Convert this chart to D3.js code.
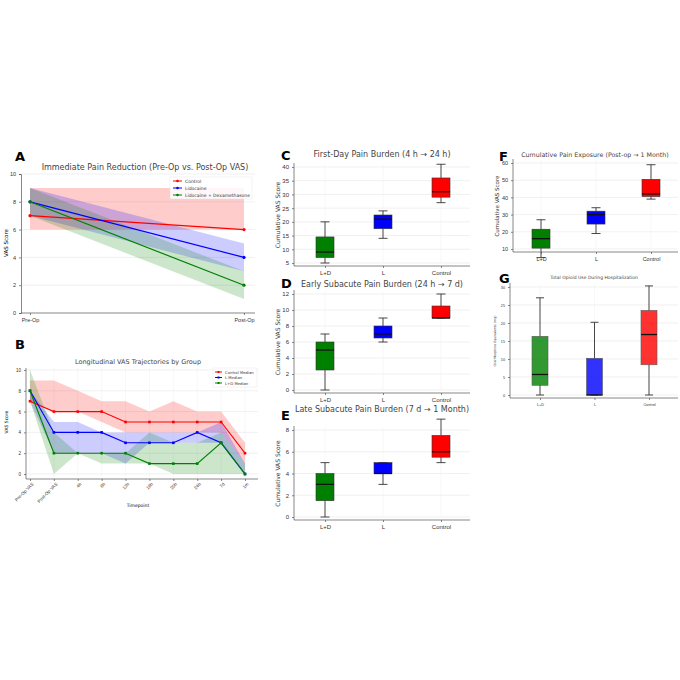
<!DOCTYPE html>
<html><head><meta charset="utf-8">
<script src="https://cdn.jsdelivr.net/npm/d3@7"></script>
<style>body{margin:0;background:#fff}svg{font-family:"DejaVu Sans",sans-serif}</style>
</head><body><svg id="c" width="680" height="680"></svg>
<script>
// Panel A
const aTimes=["Pre-Op","Post-Op"];
const aControl=[7,6], aControlLo=[6,6], aControlHi=[9,9];
const aLido=[8,4], aLidoLo=[7,3], aLidoHi=[9,5];
const aLD=[8,2], aLDLo=[7,1], aLDHi=[9,3];
// Panel B
const bTimes=["Pre-Op VAS","Post-Op VAS","4h","8h","12h","16h","20h","24h","7d","1m"];
const bControl=[7,6,6,6,5,5,5,5,5,2], bControlLo=[7,6,6,5,4,4,4,4,4,1], bControlHi=[9,9,8,7,7,6,7,6,6,3];
const bL=[8,4,4,4,3,3,3,4,3,0], bLLo=[7,2,2,2,1,3,3,3,3,0], bLHi=[8,5,5,4,4,4,4,4,5,1];
const bLD=[8,2,2,2,2,1,1,1,3,0], bLDLo=[7,0,2,1,1,1,0,0,0,0], bLDHi=[10,4,2,2,2,4,3,3,4,1];
// Box panels: [min,q1,median,q3,max] for L+D, L, Control
const groups=["L+D","L","Control"];
const cBox=[[5,7,9,14.5,20],[14,17.5,21,22.5,24],[27,29,31,36,41]];
const dBox=[[0,2.5,5,6,7],[6,6.5,7,8,9],[9,9,9,10.5,12]];
const eBox=[[0,1.5,3,4,5],[3,4,4,5,5],[5,5.5,6,7.5,9]];
const fBox=[[5,10.5,16,21.5,27],[19,24.5,30,32,34],[39,40.5,42,50.5,59]];
const gBox=[[0,2.7,5.7,16.3,27],[0,0,0,10.2,20.2],[0,8.4,16.8,23.5,30.3]];
const cols=["#008000","#0000ff","#ff0000"];

const svg=d3.select("#c");
function lbl(x,y,t){svg.append("text").attr("x",x).attr("y",y).attr("font-size",13).attr("font-weight","bold").text(t);}
function grid(g,x0,x1,ys,yvals){yvals.forEach(v=>g.append("line").attr("x1",x0).attr("x2",x1).attr("y1",ys(v)).attr("y2",ys(v)).attr("stroke","#e6e6e6").attr("stroke-width",0.6));}
function styleAxis(a,fs){a.selectAll("text").attr("font-size",fs).attr("fill","#333");a.selectAll("line,path").attr("stroke","#555").attr("stroke-width",0.7);}

// ---- Panel A
lbl(15,161,"A");
svg.append("text").attr("x",145).attr("y",170).attr("text-anchor","middle").attr("font-size",8).attr("fill","#444").text("Immediate Pain Reduction (Pre-Op vs. Post-Op VAS)");
{
 const x=d3.scalePoint().domain(aTimes).range([30,244]);
 const y=d3.scaleLinear().domain([0,10]).range([313,174]);
 const g=svg.append("g");
 grid(g,21,255,y,[2,4,6,8,10]);
 const series=[[aControl,aControlLo,aControlHi,"#ff0000","Control"],[aLido,aLidoLo,aLidoHi,"#0000ff","Lidocaine"],[aLD,aLDLo,aLDHi,"#008000","Lidocaine + Dexamethasone"]];
 series.forEach(s=>{g.append("path").datum(aTimes.map((t,i)=>[t,s[1][i],s[2][i]])).attr("d",d3.area().x(d=>x(d[0])).y0(d=>y(d[1])).y1(d=>y(d[2]))).attr("fill",s[3]).attr("opacity",0.2);});
 series.forEach(s=>{g.append("path").datum(aTimes.map((t,i)=>[t,s[0][i]])).attr("d",d3.line().x(d=>x(d[0])).y(d=>y(d[1]))).attr("stroke",s[3]).attr("fill","none").attr("stroke-width",1.2);
  g.selectAll(null).data(aTimes.map((t,i)=>[t,s[0][i]])).join("circle").attr("cx",d=>x(d[0])).attr("cy",d=>y(d[1])).attr("r",1.6).attr("fill",s[3]);});
 const ax=g.append("g").attr("transform","translate(0,313)").call(d3.axisBottom(x).tickSize(2));styleAxis(ax,5.5);ax.select("path").attr("d","M21,0H255");
 const ay=g.append("g").attr("transform","translate(21,0)").call(d3.axisLeft(y).ticks(5).tickSize(2));styleAxis(ay,5.5);
 g.append("text").attr("transform","translate(8,243)rotate(-90)").attr("text-anchor","middle").attr("font-size",5.5).text("VAS Score");
 const lg=g.append("g").attr("transform","translate(170,177)");
 lg.append("rect").attr("width",82).attr("height",22).attr("fill","#fff").attr("opacity",0.85).attr("stroke","#ddd").attr("stroke-width",0.4);
 series.forEach((s,i)=>{lg.append("line").attr("x1",3).attr("x2",12).attr("y1",4+i*7).attr("y2",4+i*7).attr("stroke",s[3]);lg.append("circle").attr("cx",7.5).attr("cy",4+i*7).attr("r",1.3).attr("fill",s[3]);lg.append("text").attr("x",15).attr("y",6+i*7).attr("font-size",4.5).attr("fill","#333").text(s[4]);});
}
// ---- Panel B
lbl(15,349,"B");
svg.append("text").attr("x",138).attr("y",364).attr("text-anchor","middle").attr("font-size",6.5).attr("fill","#444").text("Longitudinal VAS Trajectories by Group");
{
 const x=d3.scalePoint().domain(bTimes).range([30,245]);
 const y=d3.scaleLinear().domain([0,10]).range([474,370]);
 const g=svg.append("g");
 grid(g,26,258,y,[0,2,4,6,8,10]);
 bTimes.forEach(t=>g.append("line").attr("x1",x(t)).attr("x2",x(t)).attr("y1",368).attr("y2",479).attr("stroke","#eee").attr("stroke-width",0.5));
 const series=[[bControl,bControlLo,bControlHi,"#ff0000","Control Median",0],[bL,bLLo,bLHi,"#0000ff","L Median",0],[bLD,bLDLo,bLDHi,"#008000","L+D Median",1]];
 series.forEach(s=>{g.append("path").datum(bTimes.map((t,i)=>[t,s[1][i],s[2][i]])).attr("d",d3.area().x(d=>x(d[0])).y0(d=>y(d[1])).y1(d=>y(d[2]))).attr("fill",s[3]).attr("opacity",0.2);});
 series.forEach(s=>{const pts=bTimes.map((t,i)=>[t,s[0][i]]);g.append("path").datum(pts).attr("d",d3.line().x(d=>x(d[0])).y(d=>y(d[1]))).attr("stroke",s[3]).attr("fill","none").attr("stroke-width",1.1);
  g.selectAll(null).data(pts).join("rect").attr("x",d=>x(d[0])-1.3).attr("y",d=>y(d[1])-1.3).attr("width",2.6).attr("height",2.6).attr("fill",s[3]);});
 const ax=g.append("g").attr("transform","translate(0,479)").call(d3.axisBottom(x).tickSize(2));styleAxis(ax,4.5);ax.select("path").attr("d","M26,0H258");
 ax.selectAll("text").attr("text-anchor","end").attr("transform","translate(-2,0)rotate(-45)").attr("dy","0.6em");
 const ay=g.append("g").attr("transform","translate(26,0)").call(d3.axisLeft(y).ticks(5).tickSize(2));styleAxis(ay,4.5);ay.select("path").attr("d","M0,368V479");
 g.append("text").attr("x",138).attr("y",507).attr("text-anchor","middle").attr("font-size",4.5).text("Timepoint");
 g.append("text").attr("transform","translate(8,422)rotate(-90)").attr("text-anchor","middle").attr("font-size",4.5).text("VAS Score");
 const lg=g.append("g").attr("transform","translate(213,368)");
 lg.append("rect").attr("width",44).attr("height",19).attr("fill","#fff").attr("opacity",0.85).attr("stroke","#ddd").attr("stroke-width",0.4);
 series.forEach((s,i)=>{lg.append("line").attr("x1",2).attr("x2",9).attr("y1",4+i*5.5).attr("y2",4+i*5.5).attr("stroke",s[3]);lg.append("rect").attr("x",4.5).attr("y",3+i*5.5).attr("width",2).attr("height",2).attr("fill",s[3]);lg.append("text").attr("x",12).attr("y",5.5+i*5.5).attr("font-size",3.8).attr("fill","#333").text(s[4]);});
}
// ---- Box panels
function boxPanel(o){
 lbl(o.lx,o.ly,o.letter);
 svg.append("text").attr("x",o.tx!==undefined?o.tx:(o.x0+o.x1)/2).attr("y",o.ty).attr("text-anchor","middle").attr("font-size",o.tfs).attr("fill","#444").text(o.title);
 const g=svg.append("g");
 const x=d3.scalePoint().domain(groups).range(o.xr);
 const y=d3.scaleLinear().domain(o.dom).range([o.y0,o.y1]);
 grid(g,o.x0,o.x1,y,o.ticks);
 groups.forEach(t=>g.append("line").attr("x1",x(t)).attr("x2",x(t)).attr("y1",o.y1-3).attr("y2",o.y0).attr("stroke","#eee").attr("stroke-width",0.5));
 o.data.forEach((b,i)=>{const cx=x(groups[i]),w=o.bw;
  g.append("line").attr("x1",cx).attr("x2",cx).attr("y1",y(b[0])).attr("y2",y(b[1])).attr("stroke","#333").attr("stroke-width",0.9);
  g.append("line").attr("x1",cx).attr("x2",cx).attr("y1",y(b[3])).attr("y2",y(b[4])).attr("stroke","#333").attr("stroke-width",0.9);
  [b[0],b[4]].forEach(v=>g.append("line").attr("x1",cx-w/4).attr("x2",cx+w/4).attr("y1",y(v)).attr("y2",y(v)).attr("stroke","#333").attr("stroke-width",0.9));
  g.append("rect").attr("x",cx-w/2).attr("y",y(b[3])).attr("width",w).attr("height",Math.max(0.5,y(b[1])-y(b[3]))).attr("fill",cols[i]).attr("opacity",o.op).attr("stroke","#333").attr("stroke-width",0.6);
  g.append("line").attr("x1",cx-w/2).attr("x2",cx+w/2).attr("y1",y(b[2])).attr("y2",y(b[2])).attr("stroke","#111").attr("stroke-width",1.3);
 });
 const ax=g.append("g").attr("transform",`translate(0,${o.y0+3})`).call(d3.axisBottom(x).tickSize(2));styleAxis(ax,o.fs);ax.select("path").attr("d",`M${o.x0},0H${o.x1}`);
 const ay=g.append("g").attr("transform",`translate(${o.x0},0)`).call(d3.axisLeft(y).tickValues(o.ticks).tickSize(2));styleAxis(ay,o.fs);ay.select("path").attr("d",`M0,${o.y1-4}V${o.y0+3}`);
 g.append("text").attr("transform",`translate(${o.x0-14},${(o.y0+o.y1)/2})rotate(-90)`).attr("text-anchor","middle").attr("font-size",o.yfs).attr("fill","#333").text(o.ylab);
}
const common={xr:[325,441],x0:294,x1:470,bw:18,fs:6,tfs:8,yfs:6,op:1,ylab:"Cumulative VAS Score"};
boxPanel({...common,letter:"C",lx:281,ly:160,ty:157,title:"First-Day Pain Burden (4 h \u2192 24 h)",data:cBox,dom:[5,40],y0:263,y1:167,ticks:[5,10,15,20,25,30,35,40]});
boxPanel({...common,letter:"D",lx:281,ly:288,ty:287,title:"Early Subacute Pain Burden (24 h \u2192 7 d)",data:dBox,dom:[0,12],y0:390,y1:294,ticks:[0,2,4,6,8,10,12]});
boxPanel({...common,letter:"E",lx:281,ly:420,ty:412,title:"Late Subacute Pain Burden (7 d \u2192 1 Month)",data:eBox,dom:[0,8],y0:517,y1:430,ticks:[0,2,4,6,8]});
boxPanel({...common,letter:"F",lx:499,ly:161,ty:157,tx:595,title:"Cumulative Pain Exposure (Post-op \u2192 1 Month)",data:fBox,dom:[10,60],y0:249,y1:163,ticks:[10,20,30,40,50,60],xr:[541,651],x0:513,x1:678,tfs:6.3,yfs:5.5,fs:5.5});
boxPanel({...common,letter:"G",lx:499,ly:283,ty:279,title:"Total Opioid Use During Hospitalization",data:gBox,dom:[0,30],y0:395,y1:287,ticks:[0,5,10,15,20,25,30],xr:[540,649],x0:510,x1:678,bw:16,fs:3.8,tfs:4.5,yfs:3.2,op:0.8,ylab:"Oral Morphine Equivalents (mg)"});
</script></body></html>
